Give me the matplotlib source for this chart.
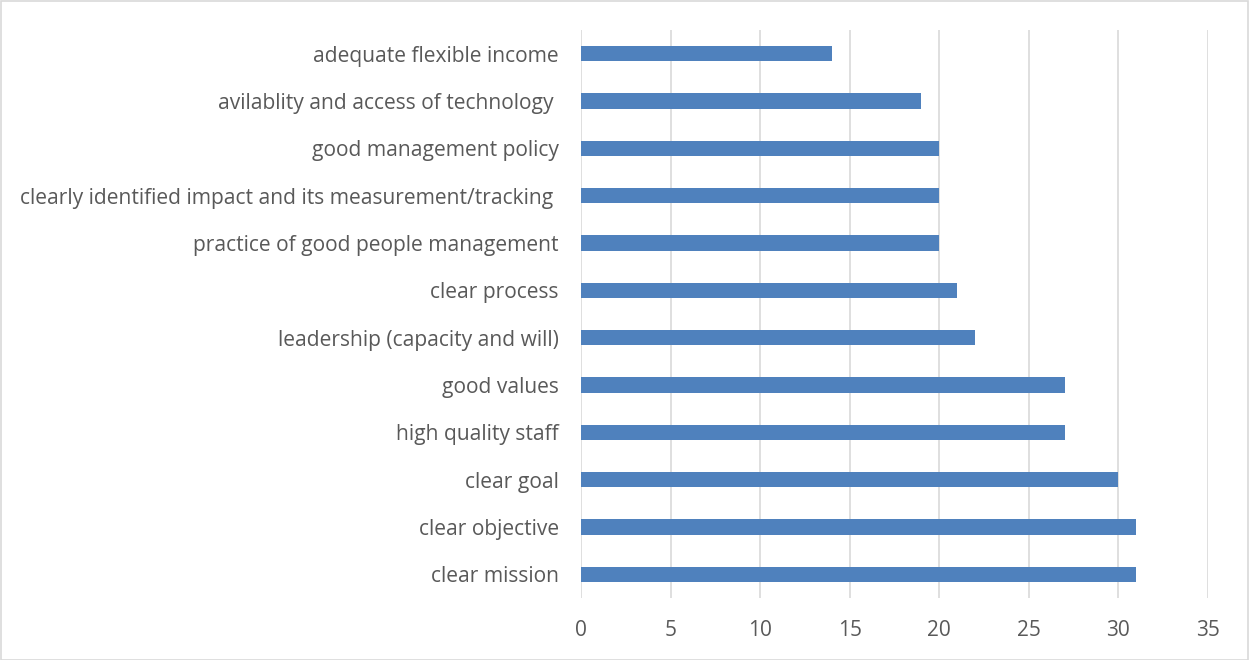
import matplotlib
matplotlib.use("Agg")
import matplotlib.pyplot as plt
from matplotlib.patches import Rectangle

# Factors (bottom to top) and their counts
categories = [
    "clear mission",
    "clear objective",
    "clear goal",
    "high quality staff",
    "good values",
    "leadership (capacity and will)",
    "clear process",
    "practice of good people management",
    "clearly identified impact and its measurement/tracking ",
    "good management policy",
    "avilablity and access of technology ",
    "adequate flexible income",
]
values = [31, 31, 30, 27, 27, 22, 21, 20, 20, 20, 19, 14]
x_ticks = [0, 5, 10, 15, 20, 25, 30, 35]

W, H = 1249, 660
fig = plt.figure(figsize=(W / 100, H / 100), dpi=100)
ax = fig.add_axes([581 / W, 1 - 598 / H, (1208 - 581) / W, (598 - 30) / H])

text_color = "#595959"
font = "Open Sans"

ax.barh(range(len(categories)), values, height=0.32, color="#4F81BD", zorder=3)

ax.set_xlim(0, 35)
ax.set_ylim(-0.5, len(categories) - 0.5)
ax.set_xticks(x_ticks)
ax.set_xticklabels([str(t) for t in x_ticks], fontsize=15, color=text_color, family=font)
ax.set_yticks(range(len(categories)))
ax.set_yticklabels(categories, fontsize=15.1, color=text_color, family=font)

ax.grid(axis="x", color="#D9D9D9", linewidth=1.2, zorder=0)
ax.tick_params(axis="both", length=0)
ax.tick_params(axis="y", pad=16)
ax.tick_params(axis="x", pad=16)
for s in ax.spines.values():
    s.set_visible(False)

# light frame around the whole chart
fig.patches.append(Rectangle((0.5 / W, 0.5 / H), 1 - 1.5 / W, 1 - 1.5 / H,
                             transform=fig.transFigure, fill=False,
                             edgecolor="#D9D9D9", linewidth=1.2))

fig.savefig("out.png", dpi=100)
